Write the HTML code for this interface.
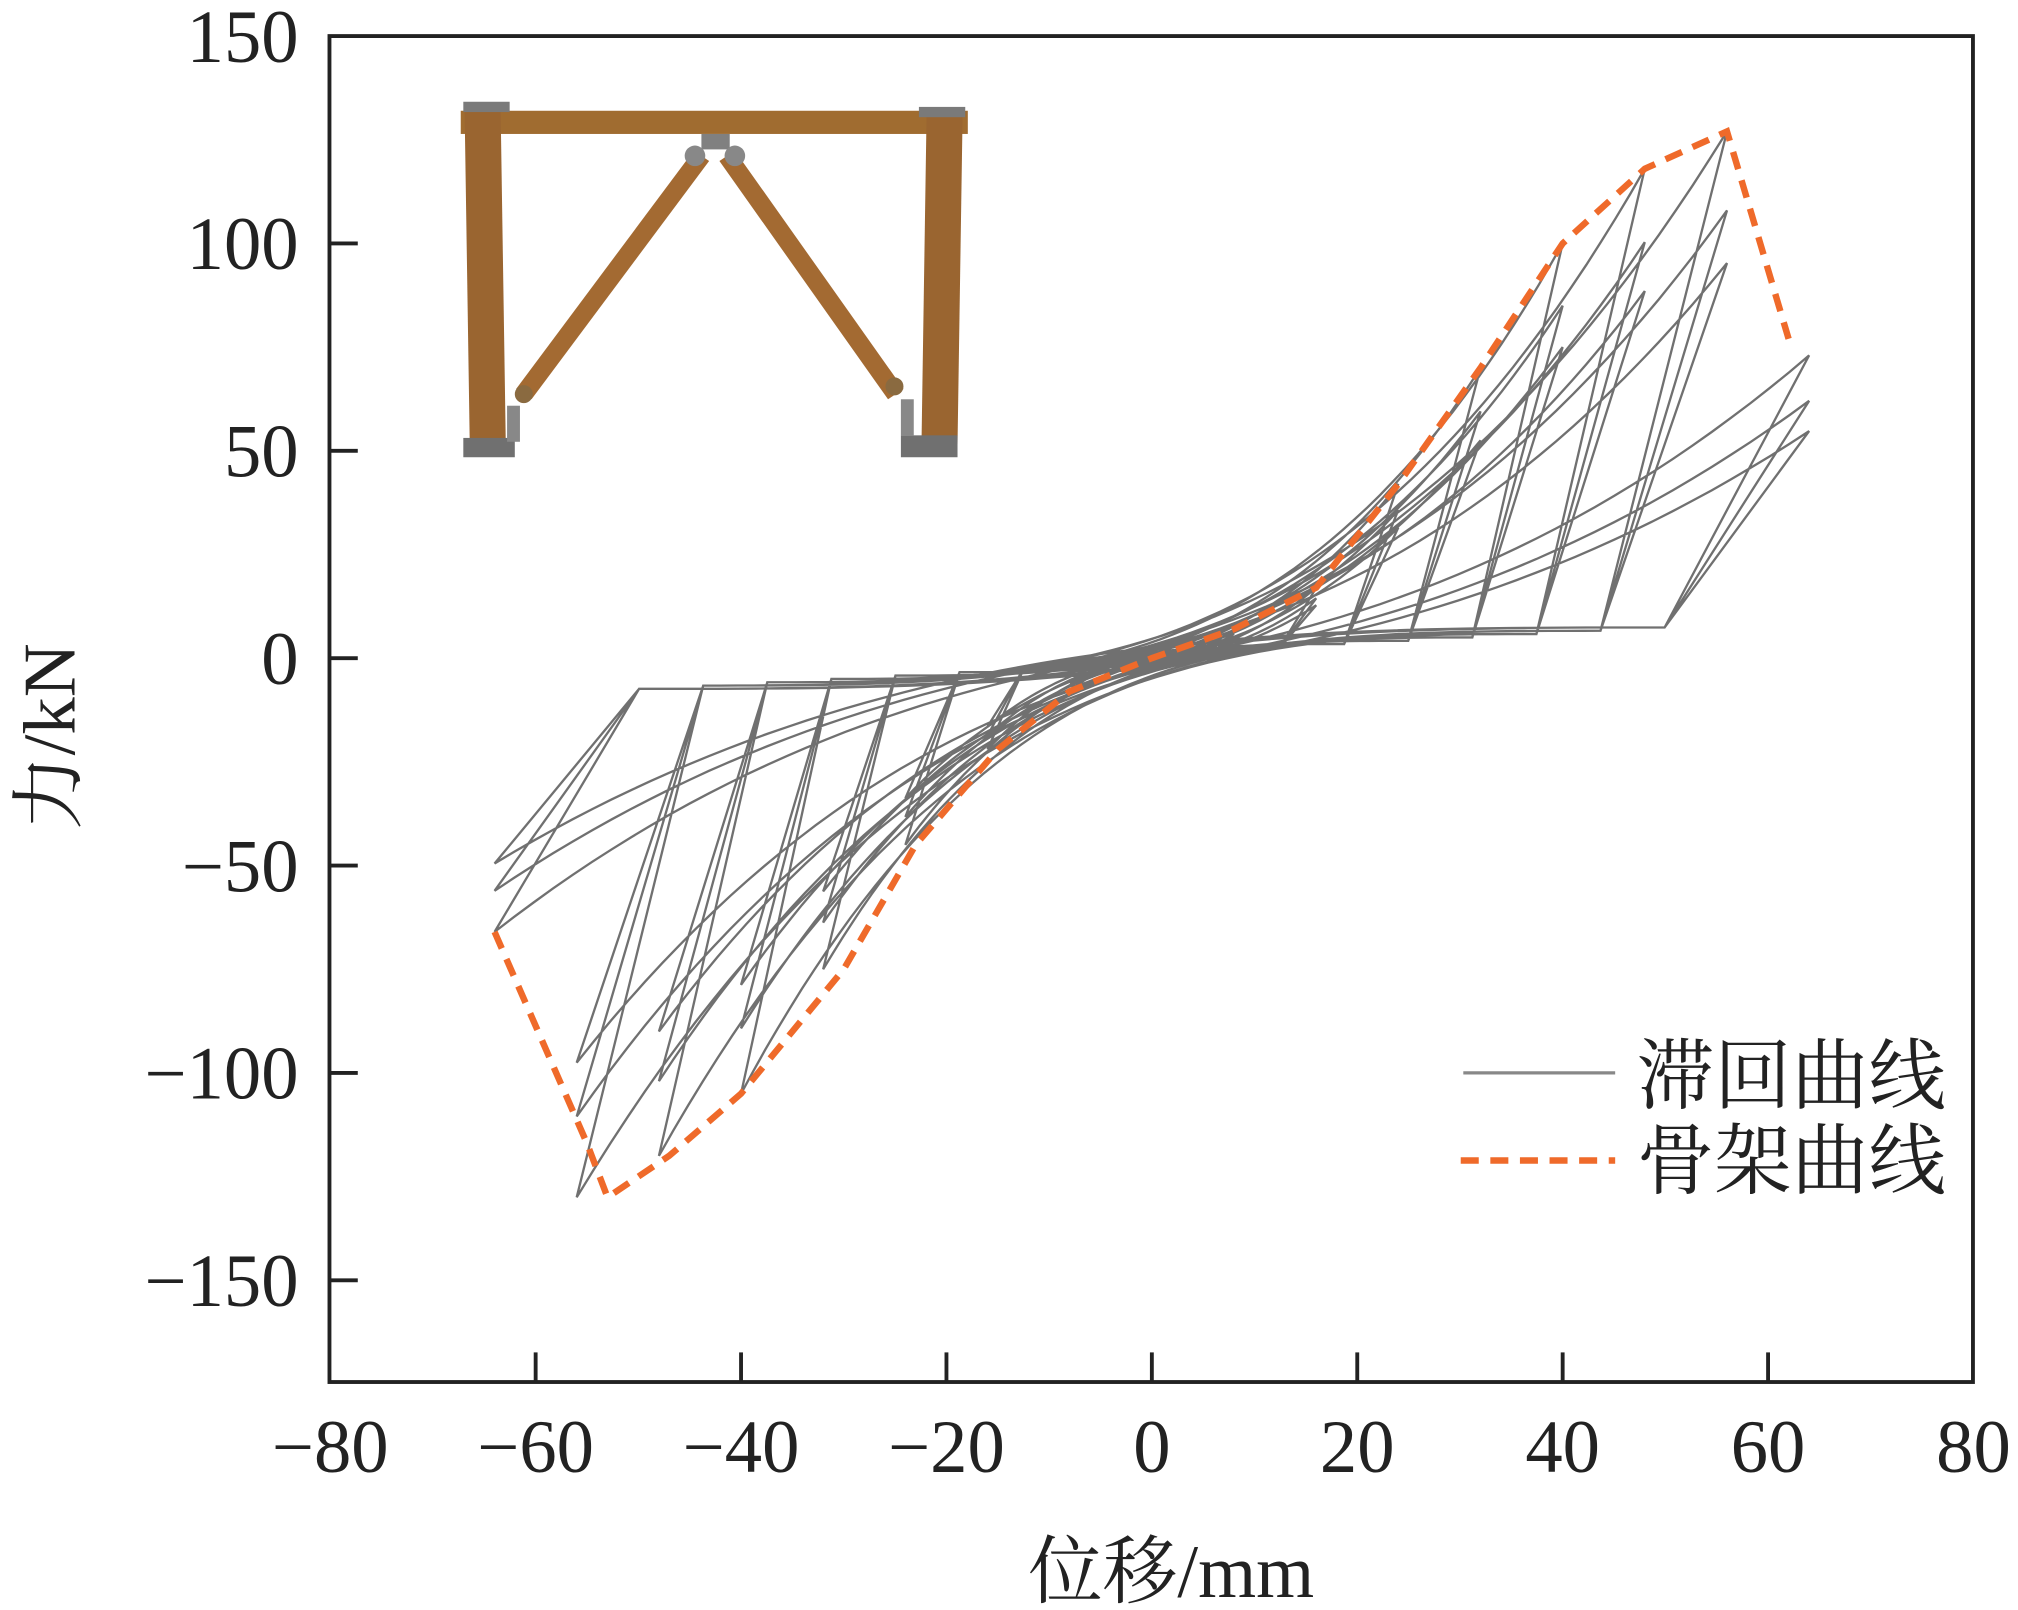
<!DOCTYPE html>
<html><head><meta charset="utf-8"><style>
html,body{margin:0;padding:0;background:#fff;}
svg{display:block;}
text{font-family:"Liberation Serif","Noto Serif CJK SC",serif;fill:#222;}
</style></head><body>
<svg id="s" width="2018" height="1610" viewBox="0 0 1568 1250" preserveAspectRatio="none" xmlns="http://www.w3.org/2000/svg">
<rect x="0" y="0" width="1568" height="1250" fill="#fff"/>
<g>
<rect x="358" y="86" width="394" height="18" fill="#a06c30"/>
<polygon points="361,86 389,86 393,345 365,345" fill="#9a6530"/>
<polygon points="720,86 748,86 744,345 716,345" fill="#9a6530"/>
<polygon points="539,117 551,125 413,310 401,302" fill="#a36a32"/>
<polygon points="571,117 559,125 690,310 702,302" fill="#a36a32"/>
<rect x="360" y="79" width="36" height="8" fill="#7a7a7a"/>
<rect x="714" y="83" width="36" height="8" fill="#7a7a7a"/>
<rect x="545" y="104" width="22" height="12" fill="#808080"/>
<circle cx="540" cy="121" r="8" fill="#888"/><circle cx="571" cy="121" r="8" fill="#888"/>
<circle cx="407" cy="306" r="7" fill="#8a6a40"/><circle cx="695" cy="300" r="7" fill="#8a6a40"/>
<rect x="360" y="340" width="40" height="15" fill="#707070"/>
<rect x="700" y="338" width="44" height="17" fill="#707070"/>
<rect x="394" y="315" width="10" height="28" fill="#888"/>
<rect x="700" y="310" width="10" height="28" fill="#888"/>
</g>
<g id="loops" fill="none" stroke="#333" stroke-width="1.8" stroke-opacity="0.7"></g>
<polyline id="skel" fill="none" stroke="#ef6a2a" stroke-width="5" stroke-dasharray="14,9"/>
<rect x="256" y="28" width="1277" height="1045" fill="none" stroke="#222" stroke-width="3"/>
<g stroke="#222" stroke-width="3" id="ticks"></g>
<g font-size="58" text-anchor="end" id="ylab"></g>
<g font-size="58" text-anchor="middle" id="xlab"></g>
<text x="910" y="1240" font-size="58" text-anchor="middle">位移/mm</text>
<text transform="translate(58,572) rotate(-90)" font-size="58" text-anchor="middle">力/kN</text>
<line x1="1137" y1="833" x2="1255" y2="833" stroke="#888" stroke-width="2.5"/>
<text x="1272" y="856" font-size="60">滞回曲线</text>
<line x1="1135" y1="901" x2="1255" y2="901" stroke="#ef6a2a" stroke-width="5" stroke-dasharray="14,9"/>
<text x="1272" y="922" font-size="60">骨架曲线</text>
</svg>
<script>
var NS="http://www.w3.org/2000/svg";
function px(x){return 895+7.98*x;} function py(y){return 511-3.22*y;}
var sk=[[-64,-66],[-55,-117],[-53,-130],[-47,-120],[-40,-105],[-30,-75],[-23,-45],[-15,-22],[-8,-8],[0,0],[8,7],[16,17],[24,42],[32,70],[40,100],[48,118],[56,127],[62,77]];
document.getElementById('skel').setAttribute('points',sk.map(function(p){return px(p[0])+','+py(p[1]);}).join(' '));
var amps=[[8,7,-8],[16,17,-22],[24,42,-45],[32,70,-75],[40,100,-105],[48,118,-120],[56,127,-130],[64,73,-66]];
var g=document.getElementById('loops'),d='';
amps.forEach(function(a,i){
 var A=a[0];var facs=[1,0.85,0.75];
 facs.forEach(function(f){
  var Fp=a[1]*f,Fn=a[2]*f,c=1+A*0.1,p=3,u=0.22*A;
  var pts=[];
  // loading up from (-A+u, -c) to (A,Fp)
  var x0=-A+u;
  for(var k=0;k<=60;k++){var t=k/60,x=x0+(A-x0)*t;pts.push([x,-c+(Fp+c)*Math.pow(t,p)]);}
  var x1=A-u;
  for(var k=0;k<=60;k++){var s=k/60,x=x1-(x1+A)*s;pts.push([x,c+(Fn-c)*Math.pow(s,p)]);}
  d+='M'+pts.map(function(q){return px(q[0]).toFixed(1)+','+py(q[1]).toFixed(1);}).join('L')+'Z ';
 });
});
var pa=document.createElementNS(NS,'path');pa.setAttribute('d',d);g.appendChild(pa);
var tk=document.getElementById('ticks'),yl=document.getElementById('ylab'),xl=document.getElementById('xlab');
[150,100,50,0,-50,-100,-150].forEach(function(v){var y=py(v);
 if(v!=150){var l=document.createElementNS(NS,'line');l.setAttribute('x1',256);l.setAttribute('x2',278);l.setAttribute('y1',y);l.setAttribute('y2',y);tk.appendChild(l);}
 var t=document.createElementNS(NS,'text');t.setAttribute('x',232);t.setAttribute('y',y+20);t.textContent=(v<0?'\u2212'+(-v):v);yl.appendChild(t);});
[-80,-60,-40,-20,0,20,40,60,80].forEach(function(v){var x=px(v);
 if(v>-80&&v<80){var l=document.createElementNS(NS,'line');l.setAttribute('x1',x);l.setAttribute('x2',x);l.setAttribute('y1',1050);l.setAttribute('y2',1073);tk.appendChild(l);}
 var t=document.createElementNS(NS,'text');t.setAttribute('x',x);t.setAttribute('y',1143);t.textContent=(v<0?'\u2212'+(-v):v);xl.appendChild(t);});
</script>
</body></html>
